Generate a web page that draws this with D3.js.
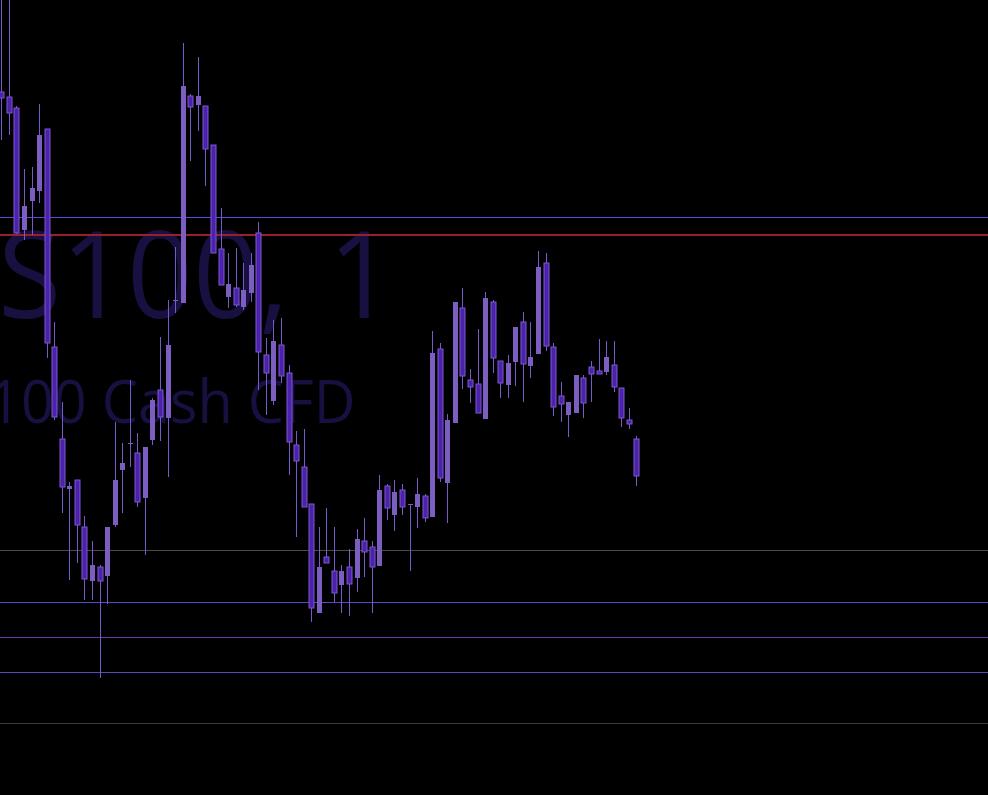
<!DOCTYPE html>
<html>
<head>
<meta charset="utf-8">
<script src="https://cdnjs.cloudflare.com/ajax/libs/d3/7.8.5/d3.min.js"></script>
<style>
  html, body { margin: 0; padding: 0; background: #000; overflow: hidden; }
  svg { display: block; }
</style>
</head>
<body>
<div id="chart"></div>
<script>
// candles, oldest first (price)
var opens  = [15627, 15625.75, 15623, 15592.5, 15599.75, 15602.25, 15617.75, 15563.25, 15540.25, 15527.75,
              15530, 15518.25, 15504.75, 15508.25, 15506, 15518.75, 15532.5, 15539, 15536.75, 15525.5,
              15540, 15552.5, 15545.5, 15574.75, 15574.25, 15626, 15623.75, 15623.5, 15613.75, 15587.75,
              15575.75, 15578, 15573.25, 15576.75, 15591.75, 15561.25, 15549.75, 15563.75, 15556.75, 15538.75,
              15533.25, 15524, 15496.75, 15510.75, 15507.25, 15503.75, 15508.25, 15505.5, 15514.75, 15513.25,
              15508.5, 15528.5, 15521.25, 15527.5, 15523.75, 15523.25, 15526, 15520.75, 15562.75, 15529.25,
              15544.25, 15573, 15555, 15554, 15545.25, 15574.5, 15559.75, 15553.75, 15559.5, 15569.5,
              15558.5, 15561.5, 15584.25, 15563.25, 15551, 15546.25, 15546.75, 15555.5, 15558.25, 15557.25,
              15557, 15558.75, 15553, 15545, 15540.25];
var highs  = [15655, 15652.5, 15623.5, 15607.75, 15608.25, 15624, 15617.75, 15569.5, 15549.5, 15529.5,
              15530, 15521, 15514.75, 15508.75, 15518.25, 15544.5, 15539.25, 15555, 15541.75, 15538.25,
              15550.5, 15565.75, 15575, 15588.25, 15639.25, 15626.5, 15635.75, 15623.5, 15613.75, 15598,
              15586.75, 15588, 15584.25, 15586.75, 15594.5, 15565.5, 15570, 15570.5, 15558.75, 15542.25,
              15542.75, 15524, 15518.25, 15523, 15518.25, 15508.75, 15512.75, 15517.75, 15520.5, 15514.75,
              15531.25, 15529, 15530, 15529, 15524, 15530.5, 15526.5, 15567.25, 15564.25, 15546.5,
              15574.5, 15578, 15557.75, 15567.75, 15577, 15575, 15559.75, 15561.25, 15568.25, 15572,
              15569.5, 15587.25, 15586.75, 15564.25, 15554.5, 15549.5, 15556.25, 15556.25, 15559.75, 15565.25,
              15564.75, 15564.75, 15553, 15548, 15541];
var lows   = [15615, 15616.25, 15591.5, 15590, 15591.25, 15599.25, 15560.5, 15545, 15521.75, 15505,
              15509.25, 15500, 15500, 15480.5, 15499, 15518.25, 15521.75, 15533.25, 15523.25, 15511.25,
              15538.75, 15539.75, 15530.75, 15571.75, 15574.25, 15609.75, 15617.25, 15603.5, 15586.75, 15578.75,
              15573, 15573.25, 15572.5, 15574.5, 15552.5, 15546.25, 15548.75, 15554.25, 15531.25, 15515.75,
              15523.25, 15494.5, 15496.75, 15509.25, 15499.5, 15496.75, 15496, 15502, 15505.75, 15496.75,
              15508.5, 15520, 15517.25, 15521.25, 15507.25, 15518, 15519.5, 15520.75, 15529.5, 15519.25,
              15544.25, 15552.75, 15549.25, 15546.75, 15545.25, 15556.75, 15550.5, 15550.5, 15553.5, 15549.5,
              15555.5, 15561.5, 15562.25, 15546, 15544.5, 15540.75, 15546.75, 15545.5, 15549.5, 15556.5,
              15556.25, 15552, 15543.25, 15542.75, 15528.5];
var closes = [15625.5, 15621.75, 15591.75, 15598.5, 15603, 15616.25, 15564.25, 15545.75, 15528.25, 15528.5,
              15518.75, 15505.25, 15508.75, 15504.75, 15518.25, 15530, 15534.25, 15539.25, 15524.5, 15538.25,
              15550, 15545.75, 15563.75, 15575, 15628.5, 15623.25, 15626, 15612.75, 15586.75, 15578.75,
              15579, 15573.75, 15577.5, 15583.75, 15562, 15556.75, 15564.75, 15556, 15539.5, 15534.75,
              15523.25, 15498, 15508.25, 15509.25, 15501.75, 15507.25, 15504, 15515.25, 15512, 15508.25,
              15527.5, 15523, 15527, 15523.25, 15524, 15526.5, 15520.5, 15561.75, 15530.5, 15545,
              15574.5, 15556, 15553.25, 15546.75, 15575.5, 15560.5, 15554.25, 15559.25, 15568.25, 15559,
              15560.75, 15583.25, 15563.5, 15548.25, 15549, 15549.5, 15556.25, 15549.25, 15556.5, 15556.5,
              15560.75, 15553.25, 15545.5, 15544, 15531];

// horizontal levels drawn across the chart
var levelPrices = [15595.75, 15591.25, 15512.5, 15499.5, 15490.75, 15482, 15469.25];
var levelColors = ['#5a4ad4', '#9a1f2c', '#4c4c4c', '#5b46c4', '#6c3aa6', '#5b46c4', '#3c3c3c'];
var levelWidths = [1, 2, 1, 1, 1, 1, 1];

var watermarkTitle = 'NAS100, 1';
var watermarkDesc = 'US Tech 100 Cash CFD';

var width = 988;
var height = 795;

var bullFill = '#7b5ebf';
var bearFill = '#4d22aa';
var bearStroke = '#7d58d4';
var wickColor = '#775ac8';

var svg = d3.select('#chart')
    .append('svg')
    .attr('width', width)
    .attr('height', height)
    .style('background', '#000');

var x = d3.scaleLinear()
    .domain([0, opens.length - 1])
    .range([1.3, 636.3]);

var y = d3.scaleLinear()
    .domain([15451.25, 15650])
    .range([height, 0]);

var candles = opens.map(function(o, i) {
    return { i: i, o: o, h: highs[i], l: lows[i], c: closes[i] };
});

// watermark, sits behind everything (right-aligned, slightly condensed)
var wm = svg.append('g').attr('class', 'watermark');
wm.append('text')
    .attr('transform', 'translate(394,318) scale(0.96,1)')
    .attr('text-anchor', 'end')
    .style('font-family', '"Open Sans", sans-serif')
    .style('font-size', '120px')
    .style('word-spacing', '10px')
    .style('fill', '#171040')
    .text(watermarkTitle);
wm.append('text')
    .attr('transform', 'translate(355.5,423) scale(0.96,1)')
    .attr('text-anchor', 'end')
    .style('font-family', '"Open Sans", sans-serif')
    .style('font-size', '60px')
    .style('fill', '#171040')
    .text(watermarkDesc);

// levels
svg.selectAll('.level')
    .data(levelPrices)
    .enter()
    .append('line')
    .attr('class', 'level')
    .attr('x1', 0)
    .attr('x2', width)
    .attr('y1', function(d, i) { return Math.round(y(d)) + (levelWidths[i] === 1 ? 0.5 : 0); })
    .attr('y2', function(d, i) { return Math.round(y(d)) + (levelWidths[i] === 1 ? 0.5 : 0); })
    .attr('stroke', function(d, i) { return levelColors[i]; })
    .attr('stroke-width', function(d, i) { return levelWidths[i]; })
    .attr('shape-rendering', 'crispEdges');

var px = function(v) { return Math.round(v) + 0.5; };

var g = svg.selectAll('.candle')
    .data(candles)
    .enter()
    .append('g')
    .attr('class', 'candle');

g.append('line')
    .attr('x1', function(d) { return px(x(d.i)); })
    .attr('x2', function(d) { return px(x(d.i)); })
    .attr('y1', function(d) { return y(d.h); })
    .attr('y2', function(d) { return y(d.l); })
    .attr('stroke', wickColor)
    .attr('stroke-width', 1);

g.append('rect')
    .attr('x', function(d) { return Math.round(x(d.i)) - 2; })
    .attr('y', function(d) { return Math.round(y(Math.max(d.o, d.c))); })
    .attr('width', 5)
    .attr('height', function(d) { return Math.max(1, Math.round(Math.abs(y(d.o) - y(d.c)))); })
    .attr('fill', function(d) { return d.c >= d.o ? bullFill : bearFill; })
    .attr('stroke', function(d) { return d.c >= d.o ? 'none' : bearStroke; })
    .attr('stroke-width', 1);
</script>
</body>
</html>
